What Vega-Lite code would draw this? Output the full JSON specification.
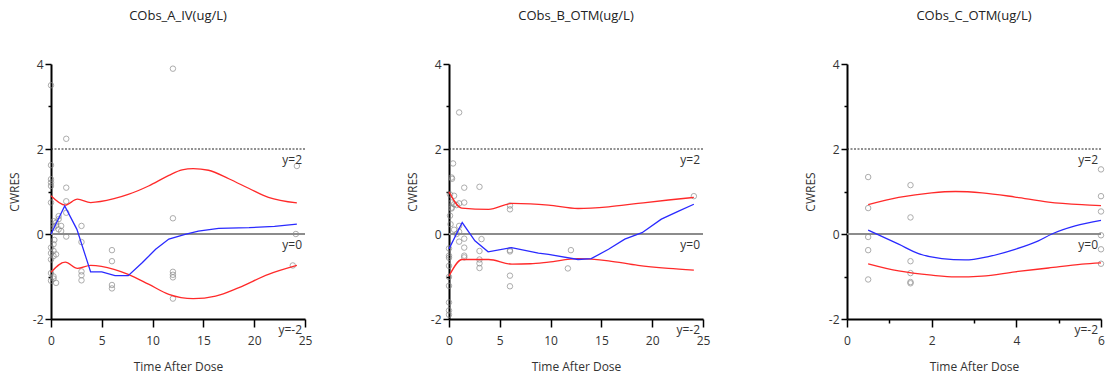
{
  "$schema": "https://vega.github.io/schema/vega-lite/v6.json",
  "padding": {"left": 8, "top": 10, "right": 2, "bottom": 2},
  "bounds": "flush",
  "spacing": 144,
  "config": {
    "view": {"stroke": null},
    "font": "Open Sans",
    "title": {"fontSize": 13, "fontWeight": "normal", "color": "#222", "offset": 35, "anchor": "middle"},
    "axis": {"grid": false, "domainColor": "#000", "domainWidth": 2, "tickColor": "#000", "tickWidth": 1.5, "labelFontSize": 12, "titleFontSize": 12, "labelColor": "#333", "titleColor": "#333", "titleFontWeight": "normal", "labelFlush": false, "labelOverlap": false}
  },
  "datasets": {
    "pts": [
      {"p":"A","t":0,"v":3.5},{"p":"A","t":0,"v":1.62},{"p":"A","t":0,"v":1.29},{"p":"A","t":0,"v":1.21},{"p":"A","t":0,"v":1.13},{"p":"A","t":0,"v":0.74},
      {"p":"A","t":0.25,"v":0.3},{"p":"A","t":0.25,"v":0.15},{"p":"A","t":0.33,"v":-0.14},{"p":"A","t":0.25,"v":-0.24},{"p":"A","t":0,"v":-0.32},{"p":"A","t":0.25,"v":-0.4},{"p":"A","t":0,"v":-0.45},{"p":"A","t":0.5,"v":-0.48},{"p":"A","t":0.25,"v":-0.52},{"p":"A","t":0,"v":-0.6},
      {"p":"A","t":0,"v":-0.92},{"p":"A","t":0.25,"v":-1.0},{"p":"A","t":0.25,"v":-1.05},{"p":"A","t":0,"v":-1.1},{"p":"A","t":0.5,"v":-1.15},
      {"p":"A","t":0.75,"v":0.42},{"p":"A","t":0.75,"v":0.35},{"p":"A","t":0.5,"v":0.27},{"p":"A","t":1,"v":0.19},{"p":"A","t":0.75,"v":0.11},{"p":"A","t":1,"v":0.07},{"p":"A","t":0.5,"v":0.2},
      {"p":"A","t":1.5,"v":2.24},{"p":"A","t":1.5,"v":1.09},{"p":"A","t":1.5,"v":0.77},{"p":"A","t":1.5,"v":0.5},{"p":"A","t":1.5,"v":-0.06},
      {"p":"A","t":3,"v":0.19},{"p":"A","t":3,"v":-0.19},{"p":"A","t":3,"v":-0.88},{"p":"A","t":3,"v":-0.97},{"p":"A","t":3,"v":-1.09},
      {"p":"A","t":6,"v":-0.38},{"p":"A","t":6,"v":-0.64},{"p":"A","t":6,"v":-1.2},{"p":"A","t":6,"v":-1.28},
      {"p":"A","t":12,"v":3.89},{"p":"A","t":12,"v":0.37},{"p":"A","t":12,"v":-0.89},{"p":"A","t":12,"v":-0.96},{"p":"A","t":12,"v":-1.02},{"p":"A","t":12,"v":-1.52},
      {"p":"A","t":24.2,"v":1.6},{"p":"A","t":24.1,"v":0.0},{"p":"A","t":23.8,"v":-0.74},
      {"p":"B","t":0,"v":-0.34},{"p":"B","t":0,"v":-0.51},{"p":"B","t":0,"v":-0.56},{"p":"B","t":0,"v":-0.75},{"p":"B","t":0,"v":-1.01},{"p":"B","t":0,"v":-1.22},{"p":"B","t":0,"v":-1.61},{"p":"B","t":0,"v":-1.8},{"p":"B","t":0,"v":-1.9},
      {"p":"B","t":0.1,"v":0.93},{"p":"B","t":0.25,"v":1.33},{"p":"B","t":0.3,"v":1.3},{"p":"B","t":0.4,"v":1.66},{"p":"B","t":0.25,"v":0.74},{"p":"B","t":0.25,"v":0.62},{"p":"B","t":0.5,"v":0.9},{"p":"B","t":0.1,"v":0.43},{"p":"B","t":0.15,"v":0.23},{"p":"B","t":0.5,"v":0.7},{"p":"B","t":0.75,"v":0.68},{"p":"B","t":0.5,"v":0.1},{"p":"B","t":0.75,"v":0.0},{"p":"B","t":1,"v":0.05},{"p":"B","t":1,"v":0.19},{"p":"B","t":1,"v":0.72},{"p":"B","t":0.25,"v":0.6},{"p":"B","t":1,"v":2.86},{"p":"B","t":1,"v":-0.18},
      {"p":"B","t":1.5,"v":1.09},{"p":"B","t":1.5,"v":0.74},{"p":"B","t":1.5,"v":-0.11},{"p":"B","t":1.5,"v":-0.32},{"p":"B","t":1.5,"v":-0.51},{"p":"B","t":1.5,"v":-0.55},
      {"p":"B","t":3,"v":1.11},{"p":"B","t":3.2,"v":-0.12},{"p":"B","t":3,"v":-0.4},{"p":"B","t":3,"v":-0.6},{"p":"B","t":3,"v":-0.69},{"p":"B","t":3,"v":-0.8},
      {"p":"B","t":6,"v":0.67},{"p":"B","t":6,"v":0.58},{"p":"B","t":6,"v":-0.38},{"p":"B","t":6,"v":-0.41},{"p":"B","t":6,"v":-0.98},{"p":"B","t":6,"v":-1.23},
      {"p":"B","t":12,"v":-0.38},{"p":"B","t":11.7,"v":-0.81},{"p":"B","t":24.1,"v":0.89},
      {"p":"C","t":0.5,"v":1.34},{"p":"C","t":0.5,"v":0.61},{"p":"C","t":0.5,"v":-0.07},{"p":"C","t":0.5,"v":-0.38},{"p":"C","t":0.5,"v":-1.07},
      {"p":"C","t":1.5,"v":1.15},{"p":"C","t":1.5,"v":0.39},{"p":"C","t":1.5,"v":-0.64},{"p":"C","t":1.5,"v":-0.92},{"p":"C","t":1.5,"v":-1.13},{"p":"C","t":1.5,"v":-1.16},
      {"p":"C","t":6,"v":1.52},{"p":"C","t":6,"v":0.89},{"p":"C","t":6,"v":0.53},{"p":"C","t":6,"v":-0.03},{"p":"C","t":6,"v":-0.36},{"p":"C","t":6,"v":-0.7}
    ],
    "curves": [
      {"p":"A","s":"upper","t":0,"v":0.9},{"p":"A","s":"upper","t":1.4,"v":0.68},{"p":"A","s":"upper","t":2.6,"v":0.82},{"p":"A","s":"upper","t":3.9,"v":0.74},{"p":"A","s":"upper","t":6.2,"v":0.83},{"p":"A","s":"upper","t":7.6,"v":0.93},{"p":"A","s":"upper","t":9.6,"v":1.13},{"p":"A","s":"upper","t":11.6,"v":1.38},{"p":"A","s":"upper","t":12.9,"v":1.51},{"p":"A","s":"upper","t":14,"v":1.54},{"p":"A","s":"upper","t":15.5,"v":1.5},{"p":"A","s":"upper","t":17.5,"v":1.3},{"p":"A","s":"upper","t":19.5,"v":1.07},{"p":"A","s":"upper","t":21.4,"v":0.86},{"p":"A","s":"upper","t":24.2,"v":0.73},
      {"p":"A","s":"lower","t":0,"v":-0.9},{"p":"A","s":"lower","t":1.4,"v":-0.66},{"p":"A","s":"lower","t":2.6,"v":-0.81},{"p":"A","s":"lower","t":3.9,"v":-0.74},{"p":"A","s":"lower","t":6.2,"v":-0.83},{"p":"A","s":"lower","t":7.6,"v":-0.95},{"p":"A","s":"lower","t":9.6,"v":-1.18},{"p":"A","s":"lower","t":11.6,"v":-1.42},{"p":"A","s":"lower","t":14,"v":-1.52},{"p":"A","s":"lower","t":16.2,"v":-1.46},{"p":"A","s":"lower","t":18.5,"v":-1.26},{"p":"A","s":"lower","t":21.4,"v":-0.95},{"p":"A","s":"lower","t":24.2,"v":-0.74},
      {"p":"A","s":"median","t":0,"v":0},{"p":"A","s":"median","t":1.35,"v":0.66},{"p":"A","s":"median","t":2.55,"v":0.11},{"p":"A","s":"median","t":3.4,"v":-0.52},{"p":"A","s":"median","t":3.9,"v":-0.89},{"p":"A","s":"median","t":5,"v":-0.89},{"p":"A","s":"median","t":6.3,"v":-0.98},{"p":"A","s":"median","t":7.6,"v":-0.98},{"p":"A","s":"median","t":9,"v":-0.67},{"p":"A","s":"median","t":10.3,"v":-0.36},{"p":"A","s":"median","t":11.6,"v":-0.12},{"p":"A","s":"median","t":13.2,"v":-0.01},{"p":"A","s":"median","t":14.5,"v":0.07},{"p":"A","s":"median","t":16.5,"v":0.13},{"p":"A","s":"median","t":19.5,"v":0.15},{"p":"A","s":"median","t":22,"v":0.18},{"p":"A","s":"median","t":24.2,"v":0.23},
      {"p":"B","s":"upper","t":0,"v":0.99},{"p":"B","s":"upper","t":1.25,"v":0.61},{"p":"B","s":"upper","t":3.9,"v":0.58},{"p":"B","s":"upper","t":6.2,"v":0.72},{"p":"B","s":"upper","t":8,"v":0.71},{"p":"B","s":"upper","t":9.8,"v":0.68},{"p":"B","s":"upper","t":12.7,"v":0.6},{"p":"B","s":"upper","t":15.7,"v":0.64},{"p":"B","s":"upper","t":18.6,"v":0.72},{"p":"B","s":"upper","t":21.6,"v":0.8},{"p":"B","s":"upper","t":24.1,"v":0.86},
      {"p":"B","s":"lower","t":0,"v":-0.99},{"p":"B","s":"lower","t":1.3,"v":-0.6},{"p":"B","s":"lower","t":3.9,"v":-0.6},{"p":"B","s":"lower","t":6.2,"v":-0.71},{"p":"B","s":"lower","t":8,"v":-0.7},{"p":"B","s":"lower","t":9.8,"v":-0.66},{"p":"B","s":"lower","t":12.7,"v":-0.58},{"p":"B","s":"lower","t":15.7,"v":-0.63},{"p":"B","s":"lower","t":18.6,"v":-0.74},{"p":"B","s":"lower","t":21.6,"v":-0.81},{"p":"B","s":"lower","t":24.1,"v":-0.85},
      {"p":"B","s":"median","t":0,"v":-0.35},{"p":"B","s":"median","t":1.3,"v":0.27},{"p":"B","s":"median","t":2.55,"v":-0.16},{"p":"B","s":"median","t":3.85,"v":-0.42},{"p":"B","s":"median","t":6.15,"v":-0.32},{"p":"B","s":"median","t":8.8,"v":-0.45},{"p":"B","s":"median","t":9.8,"v":-0.48},{"p":"B","s":"median","t":12.7,"v":-0.6},{"p":"B","s":"median","t":14,"v":-0.58},{"p":"B","s":"median","t":15.7,"v":-0.36},{"p":"B","s":"median","t":17.3,"v":-0.12},{"p":"B","s":"median","t":19,"v":0.03},{"p":"B","s":"median","t":20.9,"v":0.35},{"p":"B","s":"median","t":22.6,"v":0.54},{"p":"B","s":"median","t":24.1,"v":0.7},
      {"p":"C","s":"upper","t":0.5,"v":0.69},{"p":"C","s":"upper","t":1.22,"v":0.86},{"p":"C","s":"upper","t":2.0,"v":0.97},{"p":"C","s":"upper","t":2.56,"v":1.0},{"p":"C","s":"upper","t":3.19,"v":0.97},{"p":"C","s":"upper","t":3.97,"v":0.87},{"p":"C","s":"upper","t":4.76,"v":0.75},{"p":"C","s":"upper","t":5.55,"v":0.69},{"p":"C","s":"upper","t":6,"v":0.67},
      {"p":"C","s":"lower","t":0.5,"v":-0.7},{"p":"C","s":"lower","t":1.22,"v":-0.87},{"p":"C","s":"lower","t":2.0,"v":-0.97},{"p":"C","s":"lower","t":2.56,"v":-1.01},{"p":"C","s":"lower","t":3.19,"v":-0.99},{"p":"C","s":"lower","t":3.97,"v":-0.89},{"p":"C","s":"lower","t":4.76,"v":-0.8},{"p":"C","s":"lower","t":5.55,"v":-0.71},{"p":"C","s":"lower","t":6,"v":-0.68},
      {"p":"C","s":"median","t":0.5,"v":0.09},{"p":"C","s":"median","t":1.22,"v":-0.24},{"p":"C","s":"median","t":1.69,"v":-0.46},{"p":"C","s":"median","t":2.24,"v":-0.58},{"p":"C","s":"median","t":2.79,"v":-0.61},{"p":"C","s":"median","t":3.34,"v":-0.53},{"p":"C","s":"median","t":3.97,"v":-0.36},{"p":"C","s":"median","t":4.52,"v":-0.16},{"p":"C","s":"median","t":4.84,"v":0.0},{"p":"C","s":"median","t":5.39,"v":0.19},{"p":"C","s":"median","t":6,"v":0.32}
    ],
    "refs": [{"v":2,"l":"y=2"},{"v":0,"l":"y=0"},{"v":-2,"l":"y=-2"}]
  },
  "hconcat": [
    {
      "title": "CObs_A_IV(ug/L)",
      "width": 254, "height": 255,
      "encoding": {
        "y": {"field": "v", "type": "quantitative", "scale": {"domain": [-2, 4], "nice": false, "zero": false},
          "axis": {"title": "CWRES", "values": [-2,-1,0,1,2,3,4], "labelExpr": "datum.value % 2 === 0 ? '' + datum.value : ''", "tickSize": {"condition": {"test": "datum.value % 2 === 0", "value": 6}, "value": 3}, "labelPadding": 2, "titlePadding": 11}}
      },
      "layer": [
        {"data": {"name": "refs"}, "transform": [{"filter": "datum.v === 2"}], "mark": {"type": "rule", "color": "#222", "strokeDash": [2, 1.5], "strokeWidth": 1}, "encoding": {}},
        {"data": {"name": "refs"}, "transform": [{"filter": "datum.v === 0"}], "mark": {"type": "rule", "color": "#8c8c8c", "strokeWidth": 2}, "encoding": {}},
        {"data": {"name": "pts"}, "transform": [{"filter": "datum.p === 'A'"}], "mark": {"type": "point", "shape": "circle", "filled": false, "size": 30, "color": "#8a8a8a", "strokeWidth": 1},
          "encoding": {"x": {"field": "t", "type": "quantitative", "scale": {"domain": [0, 25], "nice": false, "zero": false},
            "axis": {"title": "Time After Dose", "values": [0,2.5,5,7.5,10,12.5,15,17.5,20,22.5,25], "labelExpr": "datum.value % 5 === 0 ? '' + datum.value : ''", "tickSize": {"condition": {"test": "datum.value % 5 === 0", "value": 8}, "value": 4}, "labelPadding": 8, "titlePadding": 15}}}},
        {"data": {"name": "curves"}, "transform": [{"filter": "datum.p === 'A' && datum.s !== 'median'"}], "mark": {"type": "line", "strokeWidth": 1.3, "color": "#ff2a2a", "interpolate": "monotone"},
          "encoding": {"x": {"field": "t", "type": "quantitative"}, "detail": {"field": "s"}}},
        {"data": {"name": "curves"}, "transform": [{"filter": "datum.p === 'A' && datum.s === 'median'"}], "mark": {"type": "line", "strokeWidth": 1.3, "color": "#2a2aff"},
          "encoding": {"x": {"field": "t", "type": "quantitative"}}},
        {"data": {"name": "refs"}, "mark": {"type": "text", "align": "right", "baseline": "middle", "dx": -3, "dy": 11, "fontSize": 12, "color": "#333"},
          "encoding": {"x": {"datum": 25, "type": "quantitative"}, "text": {"field": "l", "type": "nominal"}}}
      ]
    },
    {
      "title": "CObs_B_OTM(ug/L)",
      "width": 254, "height": 255,
      "encoding": {
        "y": {"field": "v", "type": "quantitative", "scale": {"domain": [-2, 4], "nice": false, "zero": false},
          "axis": {"title": "CWRES", "values": [-2,-1,0,1,2,3,4], "labelExpr": "datum.value % 2 === 0 ? '' + datum.value : ''", "tickSize": {"condition": {"test": "datum.value % 2 === 0", "value": 6}, "value": 3}, "labelPadding": 2, "titlePadding": 11}}
      },
      "layer": [
        {"data": {"name": "refs"}, "transform": [{"filter": "datum.v === 2"}], "mark": {"type": "rule", "color": "#222", "strokeDash": [2, 1.5], "strokeWidth": 1}, "encoding": {}},
        {"data": {"name": "refs"}, "transform": [{"filter": "datum.v === 0"}], "mark": {"type": "rule", "color": "#8c8c8c", "strokeWidth": 2}, "encoding": {}},
        {"data": {"name": "pts"}, "transform": [{"filter": "datum.p === 'B'"}], "mark": {"type": "point", "shape": "circle", "filled": false, "size": 30, "color": "#8a8a8a", "strokeWidth": 1},
          "encoding": {"x": {"field": "t", "type": "quantitative", "scale": {"domain": [0, 25], "nice": false, "zero": false},
            "axis": {"title": "Time After Dose", "values": [0,2.5,5,7.5,10,12.5,15,17.5,20,22.5,25], "labelExpr": "datum.value % 5 === 0 ? '' + datum.value : ''", "tickSize": {"condition": {"test": "datum.value % 5 === 0", "value": 8}, "value": 4}, "labelPadding": 8, "titlePadding": 15}}}},
        {"data": {"name": "curves"}, "transform": [{"filter": "datum.p === 'B' && datum.s !== 'median'"}], "mark": {"type": "line", "strokeWidth": 1.3, "color": "#ff2a2a", "interpolate": "monotone"},
          "encoding": {"x": {"field": "t", "type": "quantitative"}, "detail": {"field": "s"}}},
        {"data": {"name": "curves"}, "transform": [{"filter": "datum.p === 'B' && datum.s === 'median'"}], "mark": {"type": "line", "strokeWidth": 1.3, "color": "#2a2aff"},
          "encoding": {"x": {"field": "t", "type": "quantitative"}}},
        {"data": {"name": "refs"}, "mark": {"type": "text", "align": "right", "baseline": "middle", "dx": -3, "dy": 11, "fontSize": 12, "color": "#333"},
          "encoding": {"x": {"datum": 25, "type": "quantitative"}, "text": {"field": "l", "type": "nominal"}}}
      ]
    },
    {
      "title": "CObs_C_OTM(ug/L)",
      "width": 254, "height": 255,
      "encoding": {
        "y": {"field": "v", "type": "quantitative", "scale": {"domain": [-2, 4], "nice": false, "zero": false},
          "axis": {"title": "CWRES", "values": [-2,-1,0,1,2,3,4], "labelExpr": "datum.value % 2 === 0 ? '' + datum.value : ''", "tickSize": {"condition": {"test": "datum.value % 2 === 0", "value": 6}, "value": 3}, "labelPadding": 2, "titlePadding": 11}}
      },
      "layer": [
        {"data": {"name": "refs"}, "transform": [{"filter": "datum.v === 2"}], "mark": {"type": "rule", "color": "#222", "strokeDash": [2, 1.5], "strokeWidth": 1}, "encoding": {}},
        {"data": {"name": "refs"}, "transform": [{"filter": "datum.v === 0"}], "mark": {"type": "rule", "color": "#8c8c8c", "strokeWidth": 2}, "encoding": {}},
        {"data": {"name": "pts"}, "transform": [{"filter": "datum.p === 'C'"}], "mark": {"type": "point", "shape": "circle", "filled": false, "size": 30, "color": "#8a8a8a", "strokeWidth": 1},
          "encoding": {"x": {"field": "t", "type": "quantitative", "scale": {"domain": [0, 6], "nice": false, "zero": false},
            "axis": {"title": "Time After Dose", "values": [0,1,2,3,4,5,6], "labelExpr": "datum.value % 2 === 0 ? '' + datum.value : ''", "tickSize": {"condition": {"test": "datum.value % 2 === 0", "value": 8}, "value": 4}, "labelPadding": 8, "titlePadding": 15}}}},
        {"data": {"name": "curves"}, "transform": [{"filter": "datum.p === 'C' && datum.s !== 'median'"}], "mark": {"type": "line", "strokeWidth": 1.3, "color": "#ff2a2a", "interpolate": "monotone"},
          "encoding": {"x": {"field": "t", "type": "quantitative"}, "detail": {"field": "s"}}},
        {"data": {"name": "curves"}, "transform": [{"filter": "datum.p === 'C' && datum.s === 'median'"}], "mark": {"type": "line", "strokeWidth": 1.3, "color": "#2a2aff", "interpolate": "monotone"},
          "encoding": {"x": {"field": "t", "type": "quantitative"}}},
        {"data": {"name": "refs"}, "mark": {"type": "text", "align": "right", "baseline": "middle", "dx": -3, "dy": 11, "fontSize": 12, "color": "#333"},
          "encoding": {"x": {"datum": 6, "type": "quantitative"}, "text": {"field": "l", "type": "nominal"}}}
      ]
    }
  ]
}
